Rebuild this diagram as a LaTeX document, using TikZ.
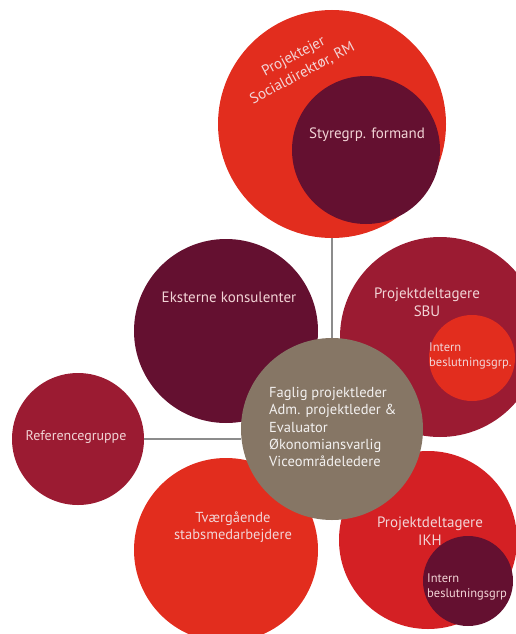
\documentclass[tikz,border=0pt]{standalone}
\usepackage{fontspec}
\setmainfont{PT Sans}
\usepackage{tikz}
\usetikzlibrary{positioning}
\definecolor{rmred}{RGB}{226,45,30}
\definecolor{rmikh}{RGB}{212,32,36}
\definecolor{rmdark}{RGB}{100,16,48}
\definecolor{rmcrimson}{RGB}{155,27,50}
\definecolor{rmbrown}{RGB}{134,118,101}
\definecolor{rmtext}{RGB}{242,212,214}
\tikzstyle{bubble} = [circle, inner sep=0pt, outer sep=0pt, draw=none]
\tikzstyle{txt} = [text=rmtext, font=\fontsize{15}{18}\selectfont, align=center, inner sep=0pt]
\tikzstyle{smalltxt} = [text=rmtext, font=\fontsize{12.5}{15}\selectfont, align=left, inner sep=0pt, anchor=west]
\tikzstyle{connector} = [draw=black!45, line width=1.3pt]

\begin{document}
\begin{tikzpicture}[x=1pt, y=-1pt]
    \useasboundingbox (0,0) rectangle (516,634);
    \clip (0,0) rectangle (516,634);

    \node (owner) [bubble, fill=rmred, minimum size=228pt] at (332,124) {};
    \node (chair) [bubble, fill=rmdark, minimum size=148pt] at (366,150) {};
    \node (consult) [bubble, fill=rmdark, minimum size=184pt] at (226,331) {};
    \node (sbu) [bubble, fill=rmcrimson, minimum size=200pt] at (440,337) {};
    \node (sbuint) [bubble, fill=rmred, minimum size=86pt] at (472,358) {};
    \node (ref) [bubble, fill=rmcrimson, minimum size=132pt] at (78,439) {};
    \node (staff) [bubble, fill=rmred, minimum size=184pt] at (226,550) {};
    \node (ikh) [bubble, fill=rmikh, minimum size=178pt] at (428,540) {};
    \node (ikhint) [bubble, fill=rmdark, minimum size=90pt] at (468,581) {};
    \node (hub) [bubble, fill=rmbrown, minimum size=182pt] at (332,429) {};

    \draw [connector] (owner) -- (hub);
    \draw [connector] (ref.east) -- (ref.east -| hub.west);

    \node (ownertxt) [txt, rotate=28, font=\fontsize{15}{19}\selectfont] at (298,65) {Projektejer\\Socialdirektør, RM};
    \node (chairtxt) [txt] at (367,135) {Styregrp. formand};
    \node (consulttxt) [txt] at (229,297) {Eksterne konsulenter};
    \node (sbutxt) [txt] at (427,302) {Projektdeltagere\\SBU};
    \node (sbuinttxt) [smalltxt] at (429,356) {Intern\\beslutningsgrp.};
    \node (reftxt) [txt, font=\fontsize{14}{17}\selectfont] at (76,437) {Referencegruppe};
    \node (hubtxt) [txt, align=left, anchor=west, text=white!90!rmbrown, font=\fontsize{14.5}{17.3}\selectfont] at (269,427)
        {Faglig projektleder\\Adm. projektleder \&\\Evaluator\\Økonomiansvarlig\\Viceområdeledere};
    \node (stafftxt) [txt, font=\fontsize{14.5}{17.5}\selectfont] at (233,527) {Tværgående\\stabsmedarbejdere};
    \node (ikhtxt) [txt] at (430,531) {Projektdeltagere\\IKH};
    \node (ikhinttxt) [smalltxt] at (427,587) {Intern\\beslutningsgrp};
\end{tikzpicture}
\end{document}
